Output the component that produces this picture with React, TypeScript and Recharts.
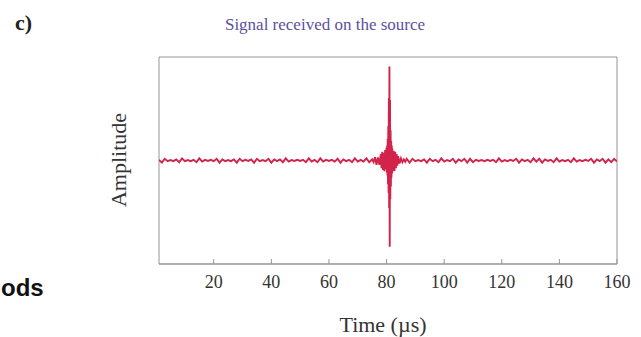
import { LineChart, Line, XAxis, YAxis, ReferenceArea } from "recharts"

// amplitude samples, t = 1..75 (1 µs step)
const earlyAmp = [
  0.015, -0.05, 0.04, -0.015, 0.01, -0.015, 0.025, -0.04, 0.05, -0.015,
  0.01, -0.015, 0.015, -0.04, 0.05, -0.025, 0.015, -0.01, 0.015, -0.015,
  0.04, -0.05, 0.025, -0.015, 0.01, -0.015, 0.025, -0.05, 0.04, -0.015,
  0.015, -0.01, 0.025, -0.05, 0.04, -0.015, 0.01, -0.015, 0.04, -0.05,
  0.025, -0.015, 0.025, -0.04, 0.05, -0.025, 0.01, -0.01, 0.015, -0.01,
  0.015, -0.04, 0.05, -0.025, 0.015, -0.04, 0.05, -0.025, 0.015, -0.01,
  0.015, -0.025, 0.04, -0.05, 0.025, -0.015, 0.015, -0.04, 0.05, -0.025,
  0.015, -0.025, 0.05, -0.04, 0.025,
]

// the burst around 81 µs
const burstTimes = [
  75.5, 76, 76.5, 77, 77.5, 78, 78.25, 78.5, 78.75, 79, 79.25, 79.5, 79.75,
  80, 80.1, 80.2, 80.3, 80.4, 80.5, 80.6, 80.7, 80.8, 80.9, 81, 81.1, 81.2,
  81.3, 81.4, 81.5, 81.6, 81.7, 81.8, 81.9, 82, 82.25, 82.5, 82.75, 83,
  83.25, 83.5, 83.75, 84, 84.5, 85, 85.5, 86, 86.5, 87,
]
const burstAmp = [
  -0.04, 0.08, -0.1, 0.07, -0.1, 0.15, -0.18, 0.2, -0.22, 0.18, -0.25, 0.24, -0.2,
  0.3, -0.28, 0.35, -0.35, 0.5, -0.55, 0.8, -0.75, 1.45, -1.1, 2.18, -2.0, 1.4,
  -0.9, 0.7, -0.6, 0.45, -0.4, 0.35, -0.3, 0.28, -0.25, 0.22, -0.24, 0.2,
  -0.18, 0.15, -0.12, 0.1, -0.07, 0.05, -0.04, 0.025, -0.03, 0.04,
]

// t = 88..160
const lateAmp = [
  -0.05, 0.04, -0.015, 0.01, -0.015, 0.025, -0.05, 0.04, -0.015, 0.015,
  -0.04, 0.05, -0.025, 0.01, -0.015, 0.04, -0.05, 0.025, -0.015, 0.04,
  -0.05, 0.04, -0.04, 0.015, -0.01, 0.01, -0.015, 0.015, -0.01, 0.015,
  -0.04, 0.05, -0.025, 0.01, -0.015, 0.015, -0.01, 0.04, -0.05, 0.025,
  -0.015, 0.015, -0.04, 0.05, -0.025, 0.04, -0.05, 0.025, -0.01, 0.015,
  -0.04, 0.05, -0.025, 0.01, -0.015, 0.015, -0.04, 0.05, -0.025, 0.01,
  -0.015, 0.015, -0.01, 0.04, -0.05, 0.025, -0.015, 0.04, -0.05, 0.025,
  -0.04, 0.04, -0.025,
]

const xTicks = [20, 40, 60, 80, 100, 120, 140, 160]
const yTicks = [-2, -1, 0, 1, 2]

const data = [
  ...earlyAmp.map((amp, i) => ({ t: 1 + i, amp })),
  ...burstTimes.map((t, i) => ({ t, amp: burstAmp[i] })),
  ...lateAmp.map((amp, i) => ({ t: 88 + i, amp })),
]

const serif = "'Liberation Serif', 'DejaVu Serif', serif"
const boxColor = "#959595"
const red = "#d2234a"

// inward tick mark + label under the axis
function TimeTick(props: any) {
  const { x, y, payload } = props
  return (
    <g>
      <line x1={x} x2={x} y1={y} y2={y - 5} stroke={boxColor} />
      <text x={x} y={y + 24} textAnchor="middle" fontFamily={serif} fontSize={18} fill="#333">
        {payload.value}
      </text>
    </g>
  )
}

function LeftTick(props: any) {
  const { x, y } = props
  return <line x1={x} x2={x + 5} y1={y} y2={y} stroke={boxColor} />
}

function RightTick(props: any) {
  const { x, y } = props
  return <line x1={x} x2={x - 5} y1={y} y2={y} stroke={boxColor} />
}

export default function App() {
  return (
    <div style={{ position: "fixed", left: 0, top: 0, width: 641, height: 337, background: "#fff" }}>
      <LineChart width={641} height={337} data={data} margin={{ top: 57, right: 24, bottom: 43, left: 159 }}>
        <XAxis
          dataKey="t"
          type="number"
          domain={[1, 160]}
          ticks={xTicks}
          allowDataOverflow
          height={30}
          tickSize={0}
          tickMargin={0}
          axisLine={{ stroke: boxColor }}
          tickLine={false}
          tick={<TimeTick />}
        />
        <YAxis
          yAxisId="l"
          type="number"
          domain={[-2.4, 2.4]}
          ticks={yTicks}
          width={0}
          tickSize={0}
          tickMargin={0}
          tickLine={false}
          tick={<LeftTick />}
          axisLine={{ stroke: boxColor }}
        />
        <YAxis
          yAxisId="r"
          orientation="right"
          type="number"
          domain={[-2.4, 2.4]}
          ticks={yTicks}
          width={0}
          tickSize={0}
          tickMargin={0}
          tickLine={false}
          tick={<RightTick />}
          axisLine={{ stroke: boxColor }}
        />
        <ReferenceArea yAxisId="l" x1={1} x2={160} y1={-2.4} y2={2.4} fill="none" stroke={boxColor} ifOverflow="visible" />
        <Line
          yAxisId="l"
          dataKey="amp"
          type="linear"
          stroke={red}
          strokeWidth={1.9}
          dot={false}
          isAnimationActive={false}
        />
      </LineChart>
      <svg width={641} height={337} style={{ position: "absolute", left: 0, top: 0, pointerEvents: "none" }}>
        <text x={15} y={30} fontFamily={serif} fontSize={22} fontWeight="bold" fill="#222">c)</text>
        <text x={325} y={30} textAnchor="middle" fontFamily={serif} fontSize={17} fill="#5d4f9e">
          Signal received on the source
        </text>
        <text
          x={126}
          y={160}
          textAnchor="middle"
          transform="rotate(-90 126 160)"
          fontFamily={serif}
          fontSize={22}
          fill="#333"
        >
          Amplitude
        </text>
        <text x={383} y={332} textAnchor="middle" fontFamily={serif} fontSize={22} fill="#333">
          Time (µs)
        </text>
        <text x={1} y={296} fontFamily="'Liberation Sans', Arial, sans-serif" fontSize={24} fontWeight="bold" fill="#111">
          ods
        </text>
      </svg>
    </div>
  )
}
